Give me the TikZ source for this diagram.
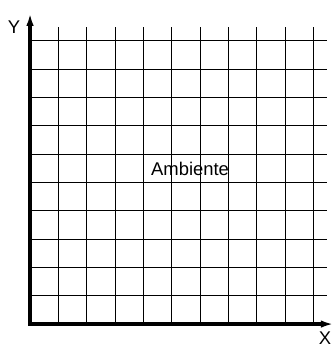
\documentclass[tikz,border=0pt]{standalone}
\usepackage{fontspec}
\setmainfont{Liberation Sans}
\usetikzlibrary{arrows.meta,positioning}

\begin{document}
\begin{tikzpicture}[
    gridline/.style={draw=black,line width=0.8pt},
    axis/.style={-{Latex[length=4.5mm,width=2.6mm]},line width=3.2pt,black},
    lbl/.style={font=\fontsize{18.5}{22}\selectfont,inner sep=0pt}
  ]
    \useasboundingbox (-1.06,-0.88) rectangle (10.80,11.44);
    % grid
    \foreach \i in {1,...,10} {
      \draw[gridline] (\i,0) -- (\i,10.5);
      \draw[gridline] (0,\i) -- (10.5,\i);
    }
    % axes
    \coordinate (o) at (0,0);
    \coordinate (xend) at (10.72,0);
    \coordinate (yend) at (0,10.98);
    \draw[axis] ([xshift=-1.6pt]o) -- (xend);
    \draw[axis] ([yshift=-1.6pt]o) -- (yend);
    \node[lbl] (ylab) at (-0.565,10.47) {Y};
    \node[lbl] (xlab) at (10.41,-0.5) {X};
    \node[lbl] (amb) at (5.65,5.47) {Ambiente};
  \end{tikzpicture}
\end{document}
